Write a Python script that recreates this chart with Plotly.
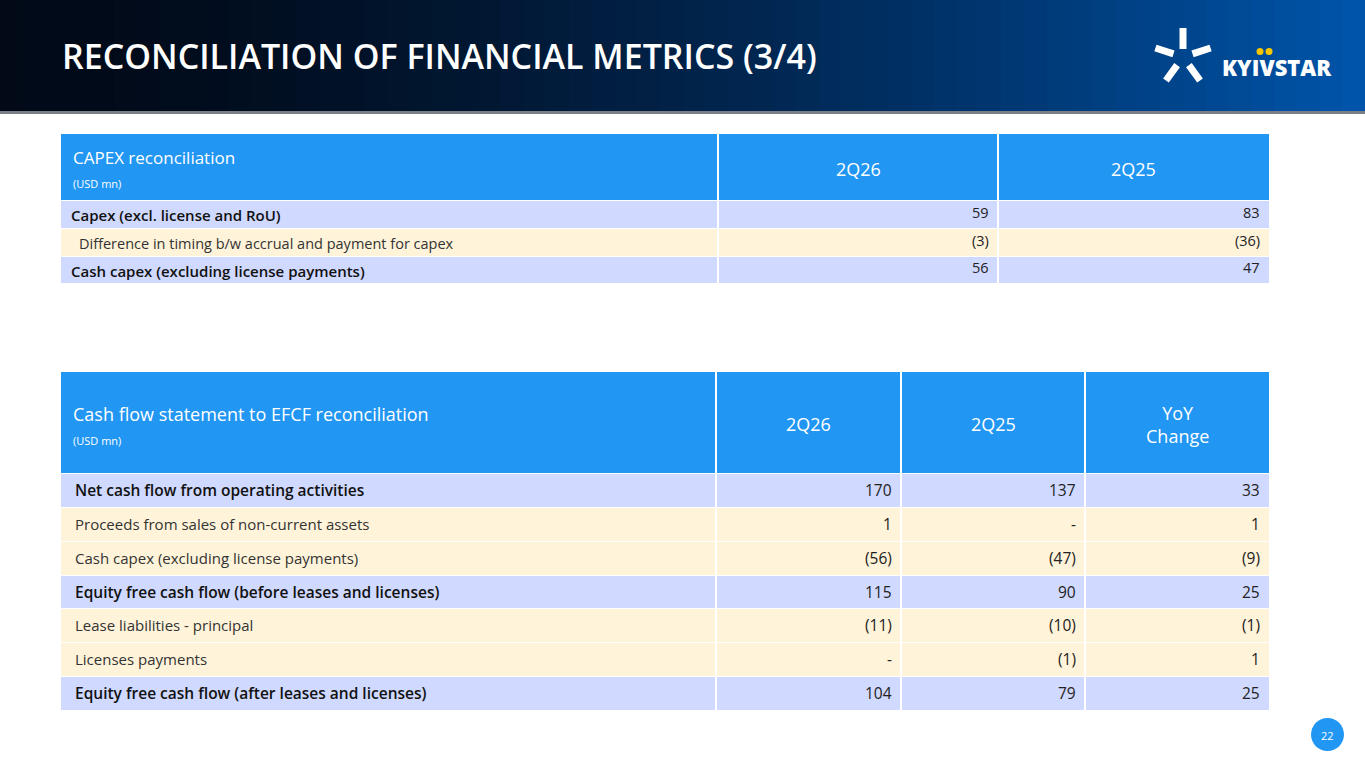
import plotly.graph_objects as go
import math

W, H = 1365, 768
title = "RECONCILIATION OF FINANCIAL METRICS (3/4)"

t1_title = "CAPEX reconciliation"
t1_unit = "(USD mn)"
t1_cols = ["2Q26", "2Q25"]
t1_labels = ["Capex (excl. license and RoU)",
             "Difference in timing b/w accrual and payment for capex",
             "Cash capex (excluding license payments)"]
t1_2q26 = ["59", "(3)", "56"]
t1_2q25 = ["83", "(36)", "47"]
t1_bold = [True, False, True]

t2_title = "Cash flow statement to EFCF reconciliation"
t2_unit = "(USD mn)"
t2_cols = ["2Q26", "2Q25", "YoY<br>Change"]
t2_labels = ["Net cash flow from operating activities",
             "Proceeds from sales of non-current assets",
             "Cash capex (excluding license payments)",
             "Equity free cash flow (before leases and licenses)",
             "Lease liabilities - principal",
             "Licenses payments",
             "Equity free cash flow (after leases and licenses)"]
t2_2q26 = ["170", "1", "(56)", "115", "(11)", "-", "104"]
t2_2q25 = ["137", "-", "(47)", "90", "(10)", "(1)", "79"]
t2_yoy = ["33", "1", "(9)", "25", "(1)", "1", "25"]
t2_bold = [True, False, False, True, False, False, True]

BLUE = "#2196F3"
LAV = "#D0D9FF"
CREAM = "#FFF3D9"
FONT = "Open Sans"

fig = go.Figure()
shapes, ann = [], []

def X(p): return p / W
def Y(p): return 1 - p / H

def rect(x0, y0, x1, y1, color):
    shapes.append(dict(type="rect", xref="paper", yref="paper", x0=X(x0), x1=X(x1),
                       y0=Y(y1), y1=Y(y0), fillcolor=color, layer="below", line=dict(width=0)))

def text(x, y, s, size=14, color="#222", anchor="left", weight=400):
    ann.append(dict(xref="paper", yref="paper", x=X(x), y=Y(y), text=s, showarrow=False,
                    xanchor=anchor, yanchor="middle",
                    font=dict(family=FONT, size=size, color=color, weight=weight)))

# header gradient
N = 60
c0 = (2, 10, 24); c1 = (0, 84, 170)
for i in range(N):
    t = (i / (N - 1)) ** 1.6
    c = tuple(int(c0[k] + (c1[k] - c0[k]) * t) for k in range(3))
    rect(i * W / N, 0, (i + 1) * W / N + 1, 112, "rgb(%d,%d,%d)" % c)
rect(0, 111, W, 114, "#7a7f88")
text(60, 56, title, size=34, color="white", weight=600)

# logo
cx, cy = 1183, 57
for ang, r0, r1 in [(90, 8, 29), (18, 10, 29), (162, 10, 29), (-54, 10, 29), (-126, 10, 29)]:
    a = math.radians(ang)
    shapes.append(dict(type="line", xref="paper", yref="paper",
                       x0=X(cx + r0 * math.cos(a)), y0=Y(cy - r0 * math.sin(a)),
                       x1=X(cx + r1 * math.cos(a)), y1=Y(cy - r1 * math.sin(a)),
                       line=dict(color="white", width=7)))
text(1220, 67, "KYIVSTAR", size=22, color="white", weight=800)
for dx in (1260, 1269):
    shapes.append(dict(type="circle", xref="paper", yref="paper", x0=X(dx - 3.5), x1=X(dx + 3.5),
                       y0=Y(55), y1=Y(48), fillcolor="#F7C600", line=dict(width=0)))

# table 1
bx = [61, 718, 998, 1269]
rect(61, 134, 1269, 200, BLUE)
text(71, 158, t1_title, size=17, color="white")
text(71, 183, t1_unit, size=11, color="white")
for j, c in enumerate(t1_cols):
    text((bx[j + 1] + bx[j + 2]) / 2, 169, c, size=18, color="white", anchor="center")
rows1 = [200, 228, 256, 283]
for i, lab in enumerate(t1_labels):
    y0, y1 = rows1[i], rows1[i + 1]
    rect(61, y0 + 1, 1269, y1, LAV if t1_bold[i] else CREAM)
    ym = (y0 + y1) / 2
    text(69 if t1_bold[i] else 77, ym + 1, lab, size=15 if t1_bold[i] else 14.5,
         color="#111" if t1_bold[i] else "#333", weight=600 if t1_bold[i] else 400)
    text(991, ym - 2, t1_2q26[i], size=14.5, anchor="right")
    text(1262, ym - 2, t1_2q25[i], size=14.5, anchor="right")
for x in bx[1:3]:
    shapes.append(dict(type="line", xref="paper", yref="paper", x0=X(x), x1=X(x),
                       y0=Y(283), y1=Y(134), line=dict(color="white", width=2)))

# table 2
bx2 = [61, 716, 901, 1085, 1269]
rect(61, 372, 1269, 473, BLUE)
text(71, 414, t2_title, size=18, color="white")
text(71, 440, t2_unit, size=11, color="white")
for j, c in enumerate(t2_cols):
    text((bx2[j + 1] + bx2[j + 2]) / 2, 424, c, size=18, color="white", anchor="center")
rows2 = [473, 507, 541, 575, 608, 642, 676, 710]
for i, lab in enumerate(t2_labels):
    y0, y1 = rows2[i], rows2[i + 1]
    rect(61, y0 + 1, 1269, y1, LAV if t2_bold[i] else CREAM)
    ym = (y0 + y1) / 2
    text(73, ym, lab, size=15.5 if t2_bold[i] else 15,
         color="#111" if t2_bold[i] else "#333", weight=600 if t2_bold[i] else 400)
    text(894, ym, t2_2q26[i], size=15.5, anchor="right")
    text(1078, ym, t2_2q25[i], size=15.5, anchor="right")
    text(1262, ym, t2_yoy[i], size=15.5, anchor="right")
for x in bx2[1:4]:
    shapes.append(dict(type="line", xref="paper", yref="paper", x0=X(x), x1=X(x),
                       y0=Y(710), y1=Y(372), line=dict(color="white", width=2)))

# page number
shapes.append(dict(type="circle", xref="paper", yref="paper", x0=X(1311), x1=X(1344),
                   y0=Y(751), y1=Y(718), fillcolor=BLUE, line=dict(width=0)))
text(1327.5, 735, "22", size=11, color="white", anchor="center")

fig.update_layout(width=W, height=H, margin=dict(l=0, r=0, t=0, b=0),
                  paper_bgcolor="white", plot_bgcolor="white",
                  xaxis=dict(visible=False), yaxis=dict(visible=False),
                  shapes=shapes, annotations=ann, showlegend=False)
fig.write_html("out.html", config={"displayModeBar": False},
               post_script="document.body.style.margin='0';document.body.style.overflow='hidden';")
